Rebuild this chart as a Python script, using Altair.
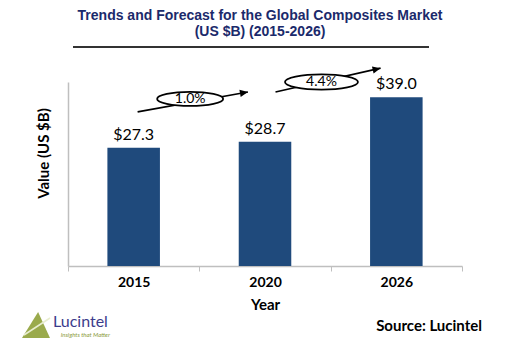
import altair as alt
import pandas as pd

# ---- data ----
years = ["2015", "2020", "2026"]
values = [27.3, 28.7, 39.0]
value_labels = ["$27.3", "$28.7", "$39.0"]

cagr_labels = ["1.0%", "4.4%"]

# annotation anchors (x in band units 0..3, y in value units)
arrow_x_start = [0.53, 1.58]
arrow_x_end = [1.37, 2.38]
arrow_y_start = [35.6, 40.2]
arrow_y_end = [40.2, 45.7]
bubble_x = [0.93, 1.93]
bubble_y = [38.6, 42.5]

# ---- styling ----
BAR = "#1F4A7C"
NAVY = "#1B2A6B"
GREY = "#BFBFBF"
FONT = "Lato"
W, H = 394, 184
Y_MAX = 42.5

ELLIPSE = "M-1,0 A1,0.21 0 1,0 1,0 A1,0.21 0 1,0 -1,0 Z"
ARROW = "M0,0 L-1,-0.45 L-1,0.45 Z"
TRI = "M-1,0.85 L0.15,-1 L1,0.85 Z"

df = pd.DataFrame({"year": years, "value": values, "label": value_labels})
ann = pd.DataFrame({
    "label": cagr_labels,
    "x0": arrow_x_start, "x1": arrow_x_end,
    "y0": arrow_y_start, "y1": arrow_y_end,
    "bx": bubble_x, "by": bubble_y,
    "ang": [349.7, 347.2],
    "bsize": [66 ** 2, 73 ** 2],
})

band_scale = alt.Scale(paddingInner=0, paddingOuter=0)
y_scale = alt.Scale(domain=[0, Y_MAX], nice=False, zero=True)
xq_scale = alt.Scale(domain=[0, 3], nice=False, zero=False)

x_axis = alt.Axis(
    labelAngle=0, labelFont=FONT, labelFontWeight="bold", labelFontSize=14,
    labelColor="black", labelPadding=4, ticks=True, tickBand="extent",
    tickSize=5, tickColor=GREY, domainColor=GREY, domainWidth=1.5,
    titleFont=FONT, titleFontSize=15, titleFontWeight="bold", titleColor="black",
    titlePadding=8,
)
y_axis = alt.Axis(
    labels=False, ticks=False, grid=False, domainColor=GREY, domainWidth=1.5,
    titleFont=FONT, titleFontSize=15, titleFontWeight="bold", titleColor="black",
    titleAngle=270, titleX=-25, titleY=71, titleAlign="center", titleBaseline="middle",
)

bars = alt.Chart(df).mark_bar(color=BAR, width=alt.RelativeBandSize(0.4)).encode(
    x=alt.X("year:N", scale=band_scale, axis=x_axis, title="Year"),
    y=alt.Y("value:Q", scale=y_scale, axis=y_axis, title="Value (US $B)"),
)

labels = alt.Chart(df).mark_text(
    font=FONT, fontSize=16, color="black", dy=-13, baseline="middle"
).encode(
    x=alt.X("year:N", scale=band_scale, axis=None),
    y=alt.Y("value:Q", scale=y_scale, axis=None),
    text="label:N",
)

rules = alt.Chart(ann).mark_rule(color="black", strokeWidth=1.6).encode(
    x=alt.X("x0:Q", scale=xq_scale, axis=None), x2="x1:Q",
    y=alt.Y("y0:Q", scale=y_scale, axis=None), y2="y1:Q",
)
heads = alt.Chart(ann).mark_point(
    shape=ARROW, filled=True, color="black", opacity=1, size=256
).encode(
    x=alt.X("x1:Q", scale=xq_scale, axis=None),
    y=alt.Y("y1:Q", scale=y_scale, axis=None),
    angle=alt.Angle("ang:Q", scale=None),
)
bubbles = alt.Chart(ann).mark_point(
    shape=ELLIPSE, filled=True, fill="white", stroke="black", strokeWidth=1.8, opacity=1
).encode(
    x=alt.X("bx:Q", scale=xq_scale, axis=None),
    y=alt.Y("by:Q", scale=y_scale, axis=None),
    size=alt.Size("bsize:Q", scale=None),
)
btext = alt.Chart(ann).mark_text(
    font=FONT, fontSize=14, color="black", baseline="middle"
).encode(
    x=alt.X("bx:Q", scale=xq_scale, axis=None),
    y=alt.Y("by:Q", scale=y_scale, axis=None),
    text="label:N",
)

underline = alt.Chart(df).mark_rule(color="#333333", strokeWidth=2).encode(
    x=alt.value(5), x2=alt.value(361), y=alt.value(-35)
)

logo_tri = alt.Chart(pd.DataFrame({"t": ["logo"]})).mark_point(
    shape=TRI, filled=True, color="#9AAA4C", opacity=1, size=784
).encode(x=alt.value(-32), y=alt.value(244))
logo_line = alt.Chart(pd.DataFrame({"t": ["logo"]})).mark_rule(
    color="#E8EDCF", strokeWidth=1.5
).encode(x=alt.value(-44), x2=alt.value(-18), y=alt.value(253), y2=alt.value(236))
logo_text = alt.Chart(pd.DataFrame({"t": ["Lucintel"]})).mark_text(
    font=FONT, fontSize=16, color="#3C3C8C", align="left", baseline="middle"
).encode(x=alt.value(-15), y=alt.value(240), text="t:N")
logo_sub = alt.Chart(pd.DataFrame({"t": ["Insights that Matter"]})).mark_text(
    font=FONT, fontSize=6, fontStyle="italic", color="#8A9A3C", align="right", baseline="middle"
).encode(x=alt.value(42), y=alt.value(253), text="t:N")
source = alt.Chart(pd.DataFrame({"t": ["Source: Lucintel"]})).mark_text(
    font=FONT, fontSize=15, fontWeight="bold", color="black", align="right", baseline="middle"
).encode(x=alt.value(414), y=alt.value(244), text="t:N")

chart = alt.layer(
    bars, labels, rules, heads, bubbles, btext, underline,
    logo_tri, logo_line, logo_text, logo_sub, source,
).resolve_scale(x="independent").resolve_axis(x="independent", y="independent").properties(
    width=W, height=H,
    autosize=alt.AutoSizeParams(type="none"),
    padding={"left": 60, "top": 74, "right": 35, "bottom": 80},
    title=alt.TitleParams(
        ["Trends and Forecast for the Global Composites Market", "(US $B) (2015-2026)"],
        font="Liberation Sans", fontSize=14, fontWeight="bold", color=NAVY,
        anchor="middle", offset=7, dx=-5, lineHeight=16,
    ),
).configure_view(stroke=None)

chart.save("out.html", embed_options={"renderer": "svg", "actions": False})
